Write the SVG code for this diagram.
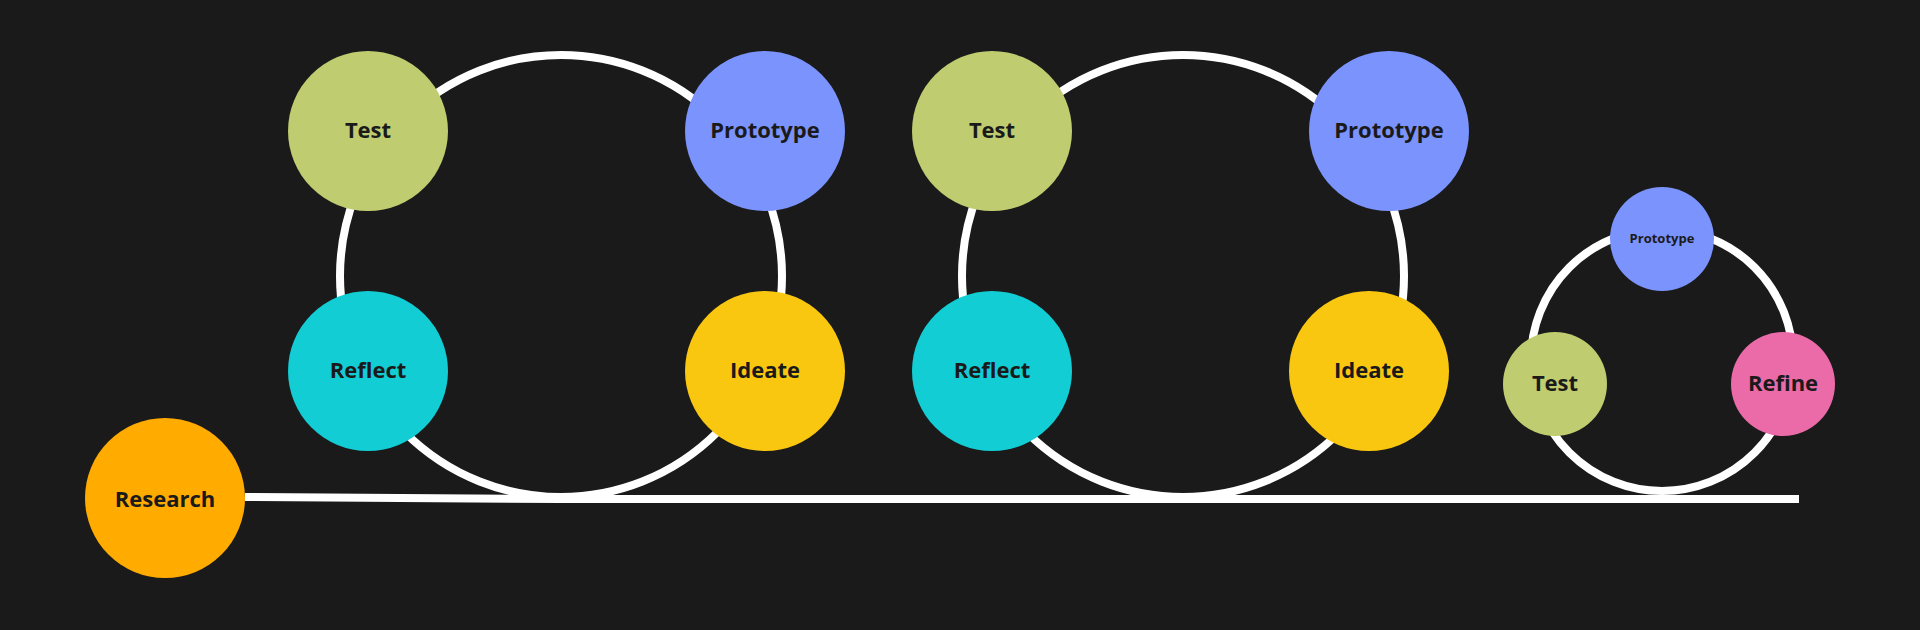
<svg xmlns="http://www.w3.org/2000/svg" width="1920" height="630" viewBox="0 0 1920 630">
<style>
.ring{fill:none;stroke:#ffffff;stroke-width:8}
.ln{fill:none;stroke:#ffffff;stroke-width:8}
.lbl{font-family:"Open Sans","Noto Sans","DejaVu Sans",sans-serif;font-weight:700;font-size:22px;fill:#1a1a1a;text-anchor:middle;dominant-baseline:central}
.sm{font-size:13px}
.green{fill:#bfcc6f}
.blue{fill:#7b93fc}
.cyan{fill:#12cdd4}
.yellow{fill:#fac710}
.orange{fill:#ffab00}
.pink{fill:#ea6ba8}
</style>
<rect width="1920" height="630" fill="#1a1a1a"/>
<g id="connectors">
<circle class="ring" cx="561" cy="276" r="221"/>
<circle class="ring" cx="1183" cy="276" r="221"/>
<circle class="ring" cx="1662" cy="360" r="131"/>
<polyline class="ln" points="245,497 561,499 1799,499"/>
</g>
<g id="research"><circle class="orange" cx="165" cy="498" r="80"/><text class="lbl" x="165" y="498">Research</text></g>
<g id="test1"><circle class="green" cx="368" cy="131" r="80"/><text class="lbl" x="368" y="129">Test</text></g>
<g id="prototype1"><circle class="blue" cx="765" cy="131" r="80"/><text class="lbl" x="765" y="129">Prototype</text></g>
<g id="reflect1"><circle class="cyan" cx="368" cy="371" r="80"/><text class="lbl" x="368" y="369">Reflect</text></g>
<g id="ideate1"><circle class="yellow" cx="765" cy="371" r="80"/><text class="lbl" x="765" y="369">Ideate</text></g>
<g id="test2"><circle class="green" cx="992" cy="131" r="80"/><text class="lbl" x="992" y="129">Test</text></g>
<g id="prototype2"><circle class="blue" cx="1389" cy="131" r="80"/><text class="lbl" x="1389" y="129">Prototype</text></g>
<g id="reflect2"><circle class="cyan" cx="992" cy="371" r="80"/><text class="lbl" x="992" y="369">Reflect</text></g>
<g id="ideate2"><circle class="yellow" cx="1369" cy="371" r="80"/><text class="lbl" x="1369" y="369">Ideate</text></g>
<g id="prototype3"><circle class="blue" cx="1662" cy="239" r="52"/><text class="lbl sm" x="1662" y="238">Prototype</text></g>
<g id="test3"><circle class="green" cx="1555" cy="384" r="52"/><text class="lbl" x="1555" y="382">Test</text></g>
<g id="refine"><circle class="pink" cx="1783" cy="384" r="52"/><text class="lbl" x="1783" y="382">Refine</text></g>
</svg>
